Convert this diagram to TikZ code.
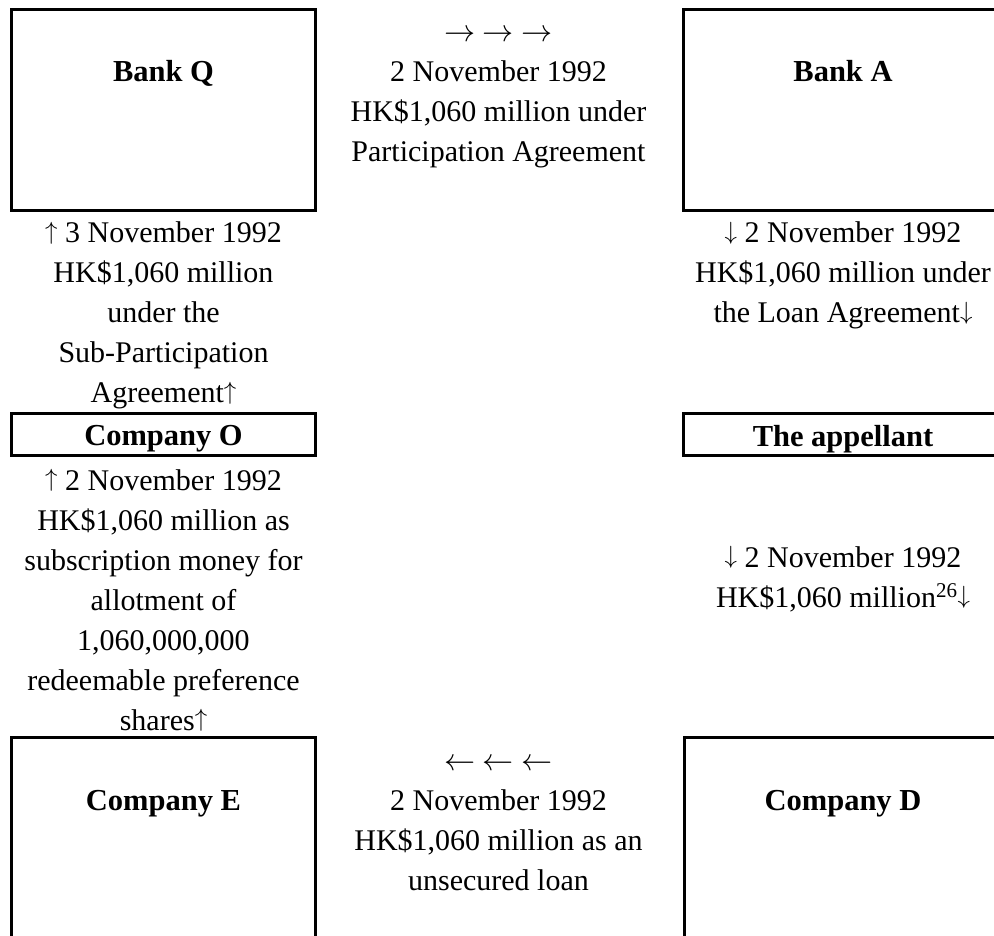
\documentclass[tikz,border=0pt]{standalone}
\usepackage{fontspec}
\setmainfont{Liberation Serif}
\newcommand\nsk{\spaceskip=.25em\relax\xspaceskip=.25em\relax}
\newcommand\upar{\raisebox{.12em}{\fontsize{26pt}{26pt}\selectfont$\uparrow$}}
\newcommand\dnar{\raisebox{.12em}{\fontsize{26pt}{26pt}\selectfont$\downarrow$}}
\newcommand\rtar{\scalebox{1.25}{$\rightarrow$}}
\newcommand\lfar{\scalebox{1.25}{$\leftarrow$}}
\tikzset{
  box/.style={draw=black, line width=3pt, inner sep=0pt, fill=none},
  lbl/.style={anchor=base, inner sep=0pt, font=\fontsize{30.5pt}{40pt}\selectfont\bfseries},
  txt/.style={anchor=base, inner sep=0pt, text width=380pt, align=center, font=\fontsize{30pt}{40pt}\selectfont},
}
\begin{document}
\begin{tikzpicture}[x=1pt, y=-1pt]
\useasboundingbox (0,0) rectangle (994,936);
\clip (0,0) rectangle (994,936);
% boxes
\node[box, minimum width=304.7pt, minimum height=201pt] (bq) at (163.4,110.5) {};
\node[box, minimum width=320.5pt, minimum height=201pt] (ba) at (843.75,110.5) {};
\node[box, minimum width=304.7pt, minimum height=42pt] (co) at (163.4,434.3) {};
\node[box, minimum width=320.5pt, minimum height=42pt] (ap) at (843.75,434.3) {};
\node[box, minimum width=303.5pt, minimum height=240pt] (ce) at (163.7,857.7) {};
\node[box, minimum width=320.5pt, minimum height=240pt] (cd) at (844.25,857.7) {};
% box labels
\node[lbl] (bqt) at (163.5,82) {Bank Q};
\node[lbl] (bat) at (843,82) {Bank A};
\node[lbl] (cot) at (163.5,445.5) {Company O};
\node[lbl] (apt) at (843,446) {The appellant};
\node[lbl] (cet) at (163.5,810) {Company E};
\node[lbl] (cdt) at (843,810) {Company D};
% flow texts
\node[txt] (t1) at (498.5,42) {\nsk\rtar{} \rtar{} \rtar\\2 November 1992\\HK\$1,060 million under\\Participation Agreement};
\node[txt] (t2) at (843,243) {\nsk\dnar{} 2 November 1992\\HK\$1,060 million under\\the Loan Agreement\dnar};
\node[txt] (t3) at (843,567) {\nsk\dnar{} 2 November 1992\\HK\$1,060 million\textsuperscript{26}\dnar};
\node[txt] (t4) at (498.5,770) {\nsk\lfar{} \lfar{} \lfar\\2 November 1992\\HK\$1,060 million as an\\unsecured loan};
\node[txt] (t5) at (163.5,490) {\nsk\upar{} 2 November 1992\\HK\$1,060 million as\\subscription money for\\allotment of\\1,060,000,000\\redeemable preference\\shares\upar};
\node[txt] (t6) at (163.5,243) {\nsk\upar{} 3 November 1992\\HK\$1,060 million\\under the\\Sub-Participation\\Agreement\upar};
\end{tikzpicture}
\end{document}
